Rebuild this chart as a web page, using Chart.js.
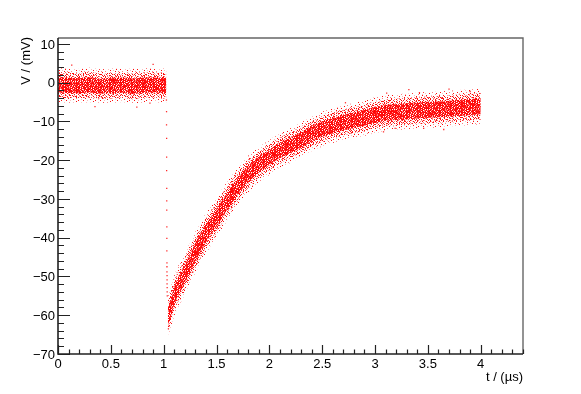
<!DOCTYPE html>
<html><head><meta charset="utf-8">
<script src="https://cdn.jsdelivr.net/npm/chart.js@4"></script>
<style>html,body{margin:0;padding:0;background:#fff}#wrap{width:581px;height:394px}</style>
</head><body><div id="wrap"><canvas id="c" width="581" height="394"></canvas></div>
<script>
// ---- data ----
// baseline before the step (t in µs, V in mV): centre of the noise band and its half-width
const baseT      = [0, 0.1, 0.2, 0.3, 0.4, 0.5, 0.6, 0.7, 0.8, 0.9, 1.0, 1.025];
const baseMid    = [-0.6, -0.7, -0.8, -0.6, -0.9, -0.8, -0.7, -0.9, -0.7, -0.6, -0.8, -0.8];
const baseSpread = [3.3, 3.3, 3.2, 3.3, 3.2, 3.3, 3.2, 3.3, 3.3, 3.2, 3.3, 3.3];
// recovery after the step: centre of the band and its half-width
const decayT      = [1.04, 1.06, 1.1, 1.2, 1.3, 1.4, 1.5, 1.6, 1.7, 1.8, 1.9, 2.0, 2.1, 2.2, 2.3, 2.4, 2.5, 2.6, 2.7, 2.8, 2.9, 3.0, 3.1, 3.2, 3.3, 3.4, 3.5, 3.6, 3.7, 3.8, 3.9, 4.0];
const decayMid    = [-60.2, -58.8, -55.0, -49.4, -43.8, -38.9, -34.9, -30.6, -26.8, -23.6, -21.2, -19.3, -17.5, -16.2, -14.8, -13.2, -12.0, -11.1, -10.3, -9.7, -9.1, -8.4, -7.8, -7.6, -7.4, -7.2, -7.0, -6.9, -6.7, -6.5, -6.3, -6.1];
const decaySpread = [3.6, 3.8, 3.9, 3.9, 3.9, 3.8, 3.8, 3.7, 3.6, 3.5, 3.4, 3.3, 3.3, 3.3, 3.3, 3.3, 3.3, 3.3, 3.3, 3.3, 3.4, 3.4, 3.4, 3.4, 3.4, 3.4, 3.4, 3.4, 3.4, 3.4, 3.4, 3.4];
// isolated samples on the falling edge
const dropT = [1.026, 1.027, 1.027, 1.028, 1.028, 1.028, 1.029, 1.029, 1.029, 1.030, 1.030, 1.030, 1.031, 1.031, 1.031, 1.032, 1.032, 1.032, 1.033, 1.033, 1.034];
const dropV = [-4.5, -7.5, -10.9, -14.4, -19.2, -22.7, -27.3, -30.5, -32.9, -37.2, -40.2, -43.4, -46.5, -47.5, -48.8, -49.8, -50.9, -51.9, -52.9, -54.0, -55.0];
// stray samples outside the band
const strayT = [0.13, 0.90, 0.35, 0.746, 0.87, 2.72, 3.11, 3.32, 3.42, 3.70, 3.90, 3.65, 3.08, 3.46, 3.19, 1.045, 1.05];
const strayV = [4.5, 4.7, -6.2, -6.3, -5.3, -5.2, -2.7, -1.8, -2.6, -1.7, -2.3, -12.1, -12.7, -11.8, -11.8, -63.5, -62.8];
// axis ticks
const xTickValues = [0, 0.5, 1, 1.5, 2, 2.5, 3, 3.5, 4];
const xTickLabels = ['0', '0.5', '1', '1.5', '2', '2.5', '3', '3.5', '4'];
const yTickValues = [10, 0, -10, -20, -30, -40, -50, -60, -70];
const yTickLabels = ['10', '0', '\u221210', '\u221220', '\u221230', '\u221240', '\u221250', '\u221260', '\u221270'];

// ---- speckle textures (styling only) ----
const TILE_SPARSE = [
"..#.......-......",
".......+.......#.",
"-...#......#.....",
"..........+...-..",
".#....-.......#..",
"........#..-.....",
"...+.........#..+",
"#.......+........",
".....#.......-...",
"..-.......#....#.",
"........#........",
".#...+.......+...",
"......-...#......"];
const TILE_MEDIUM = [
".#..+.#..-#..",
"#..#...+...#.",
"..-.#.#..#..+",
".#.....#.-.#.",
"+..#.+...#...",
"..#...#.+..#-",
"#..-#....#...",
".+...#.#...+.",
"..#.....#-#..",
"#..+.#.....#.",
".#...-.#+...#"];
const TILE_DENSE = [
"##+#.##-#+#",
"#.##+#.##.#",
"+##.##+#.##",
"#-#+#.###+#",
".##.#+#.#.#",
"##+##.-##+#",
"#.#.##+#.##"];
const SHADE = {'#': 'rgba(255,0,0,0.95)', '+': 'rgba(255,40,40,0.6)', '-': 'rgba(255,90,90,0.4)'};
function makePattern(rows) {
  const w = Math.max(...rows.map(r => r.length)), h = rows.length;
  const cv = document.createElement('canvas'); cv.width = w; cv.height = h;
  const g = cv.getContext('2d');
  rows.forEach((r, j) => [...r].forEach((ch, i) => {
    if (SHADE[ch]) { g.fillStyle = SHADE[ch]; g.fillRect(i, j, 1, 1); }
  }));
  return g.createPattern(cv, 'repeat');
}
const tiers = [
  {k: 1.35, fill: makePattern(TILE_SPARSE)},
  {k: 1.0, fill: makePattern(TILE_MEDIUM)},
  {k: 0.6, fill: makePattern(TILE_DENSE)}
];
function bandSets(T, M, S) {
  const out = [];
  tiers.forEach(tier => {
    out.push({
      data: T.map((t, i) => ({x: t, y: M[i] + S[i] * tier.k})),
      fill: '+1', backgroundColor: tier.fill, borderWidth: 0, pointRadius: 0,
      showLine: true, cubicInterpolationMode: 'monotone'
    });
    out.push({
      data: T.map((t, i) => ({x: t, y: M[i] - S[i] * tier.k})),
      fill: false, borderWidth: 0, pointRadius: 0,
      showLine: true, cubicInterpolationMode: 'monotone'
    });
  });
  return out;
}
const datasets = [
  ...bandSets(baseT, baseMid, baseSpread),
  ...bandSets(decayT, decayMid, decaySpread),
  {data: dropT.map((t, i) => ({x: t, y: dropV[i]})), showLine: false, pointStyle: 'rect',
   pointRadius: 0.9, pointBorderWidth: 0, pointBackgroundColor: 'rgba(255,0,0,0.85)'},
  {data: strayT.map((t, i) => ({x: t, y: strayV[i]})), showLine: false, pointStyle: 'rect',
   pointRadius: 0.9, pointBorderWidth: 0, pointBackgroundColor: 'rgba(255,0,0,0.85)'}
];

const FONT = '13px "Liberation Sans", Arial, Helvetica, sans-serif';
const rootAxes = {
  id: 'rootAxes',
  afterDatasetsDraw(chart) {
    const {ctx, chartArea: a, scales: {x, y}} = chart;
    ctx.save();
    ctx.strokeStyle = '#666'; ctx.lineWidth = 1.4;
    ctx.beginPath();
    ctx.moveTo(a.left, a.top); ctx.lineTo(a.right, a.top); ctx.lineTo(a.right, a.bottom);
    ctx.stroke();
    ctx.strokeStyle = '#222'; ctx.lineWidth = 1.6;
    ctx.beginPath();
    ctx.moveTo(a.left, a.top); ctx.lineTo(a.left, a.bottom); ctx.lineTo(a.right, a.bottom);
    ctx.stroke();
    ctx.lineWidth = 1.2;
    ctx.beginPath();
    for (let i = 0; i <= 44; i++) {
      const v = i / 10;
      const px = Math.round(x.getPixelForValue(v)) + 0.5;
      const len = (i % 5 === 0) ? 9 : 4.5;
      ctx.moveTo(px, a.bottom); ctx.lineTo(px, a.bottom - len);
    }
    for (let v = -70; v <= y.max; v += 2) {
      const py = Math.round(y.getPixelForValue(v)) + 0.5;
      const len = (v % 10 === 0) ? 12 : 6;
      ctx.moveTo(a.left, py); ctx.lineTo(a.left + len, py);
    }
    ctx.stroke();
    ctx.fillStyle = '#000'; ctx.font = FONT;
    ctx.textAlign = 'center'; ctx.textBaseline = 'alphabetic';
    xTickValues.forEach((v, i) => ctx.fillText(xTickLabels[i], x.getPixelForValue(v), a.bottom + 13.5));
    ctx.textAlign = 'right';
    yTickValues.forEach((v, i) => ctx.fillText(yTickLabels[i], a.left - 3, y.getPixelForValue(v) + 4.7));
    ctx.textAlign = 'right';
    ctx.fillText('t / (\u00b5s)', a.right, a.bottom + 26.5);
    ctx.translate(29.5, a.top - 1);
    ctx.rotate(-Math.PI / 2);
    ctx.fillText('V / (mV)', 0, 0);
    ctx.restore();
  }
};

new Chart(document.getElementById('c'), {
  type: 'line',
  data: {datasets},
  options: {
    responsive: false, animation: false, devicePixelRatio: 1,
    layout: {padding: {left: 58, right: 58, top: 38, bottom: 40}},
    scales: {
      x: {type: 'linear', min: 0, max: 4.4, display: false},
      y: {type: 'linear', min: -70, max: 11.5, display: false}
    },
    plugins: {legend: {display: false}, tooltip: {enabled: false}}
  },
  plugins: [rootAxes]
});
</script></body></html>
